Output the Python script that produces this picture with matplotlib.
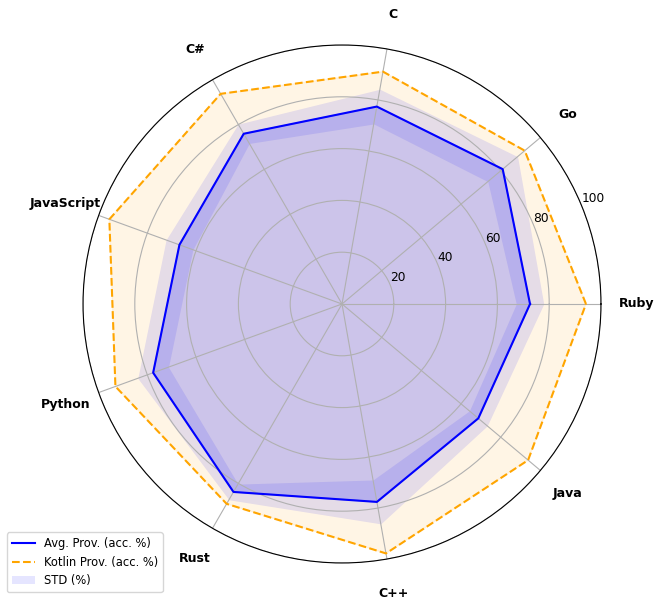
import numpy as np
import matplotlib
matplotlib.use("Agg")
import matplotlib.pyplot as plt

categories = ['Ruby', 'Go', 'C', 'C#', 'JavaScript', 'Python', 'Rust', 'C++', 'Java']
avg_prov = [72.6, 81.0, 77.4, 75.9, 66.8, 77.6, 83.8, 77.6, 68.7]
kotlin_prov = [94.2, 92.1, 91.1, 93.7, 95.6, 93.1, 89.1, 97.8, 93.8]
std_prov = [5.3, 7.5, 6.8, 4.3, 5.5, 6.3, 3.5, 8.6, 4.5]
r_ticks = [20, 40, 60, 80, 100]

n = len(categories)
angles = np.linspace(0, 2 * np.pi, n, endpoint=False)
ang_c = np.concatenate([angles, angles[:1]])
avg = np.array(avg_prov + avg_prov[:1])
kot = np.array(kotlin_prov + kotlin_prov[:1])
std = np.array(std_prov + std_prov[:1])

fig = plt.figure(figsize=(6.7, 5.99), dpi=100)
ax = fig.add_axes([0.1239, 0.0601, 0.7731, 0.8648], projection='polar')

ax.fill(ang_c, kot, color='orange', alpha=0.1)
l2, = ax.plot(ang_c, kot, color='orange', linestyle='--', linewidth=1.5,
              label='Kotlin Prov. (acc. %)')
ax.fill(ang_c, avg, color='blue', alpha=0.2)
l1, = ax.plot(ang_c, avg, color='blue', linewidth=1.5, label='Avg. Prov. (acc. %)')
fb = ax.fill_between(ang_c, avg - std, avg + std, color='blue', alpha=0.1,
                     linewidth=0, label='STD (%)')

ax.set_ylim(0, 100)
ax.set_yticks(r_ticks)
ax.set_yticklabels([str(t) for t in r_ticks], fontsize=8.8)
ax.set_xticks(angles)
ax.set_xticklabels(categories, fontsize=9, fontweight='bold')
ax.tick_params(axis='x', pad=15)

fig.legend(handles=[l1, l2, fb], loc='lower left', bbox_to_anchor=(0.0104, 0.0117),
           borderaxespad=0, fontsize=8.3)

fig.savefig('out.png', dpi=100)
